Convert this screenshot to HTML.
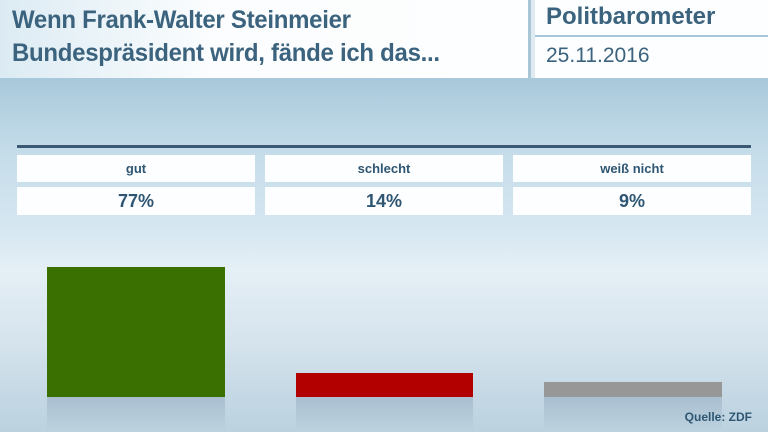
<!DOCTYPE html>
<html><head><meta charset="utf-8"><style>
body{margin:0;width:768px;height:432px;overflow:hidden;position:relative;font-family:"Liberation Sans",sans-serif;color:#2f5672;
background:linear-gradient(to bottom,#a6c7d9 0px,#a8c9db 80px,#c4dce9 150px,#d6e7f1 230px,#e5eff6 270px,#d6e4ed 340px,#c3d7e4 400px,#bcd2df 432px);}
.b{position:absolute;box-sizing:border-box}
.cell{position:absolute;background:#fcfeff;text-align:center;font-weight:bold}
</style></head><body>
<div class="b" style="left:0;top:0;width:528px;height:78px;background:linear-gradient(to right,#dcebf3,#fbfdfe 40%,#fcfeff)"></div>
<div class="b" style="left:528px;top:0;width:3px;height:78px;background:#a9c6d6"></div>
<div class="b" style="left:531px;top:0;width:4px;height:78px;background:#dfeaf1"></div>
<div class="b" style="left:535px;top:0;width:233px;height:35px;background:#fcfeff"></div>
<div class="b" style="left:535px;top:37px;width:233px;height:41px;background:#fcfeff"></div>
<div class="b" style="left:12px;top:4px;font-size:25px;font-weight:bold;line-height:33px;color:#3b637e;letter-spacing:-0.3px;transform:scaleX(0.96);transform-origin:0 0;white-space:nowrap">Wenn Frank-Walter Steinmeier<br>Bundespräsident wird, fände ich das...</div>
<div class="b" style="left:546px;top:3px;font-size:24px;font-weight:bold;color:#3b637e">Politbarometer</div>
<div class="b" style="left:546px;top:44px;font-size:21px;color:#3b637e">25.11.2016</div>
<div class="b" style="left:17px;top:145px;width:734px;height:3px;background:#3a5a74"></div>
<div class="cell" style="left:17px;top:155px;width:238px;height:27px;line-height:27px;font-size:13px">gut</div>
<div class="cell" style="left:265px;top:155px;width:238px;height:27px;line-height:27px;font-size:13px">schlecht</div>
<div class="cell" style="left:513px;top:155px;width:238px;height:27px;line-height:27px;font-size:13px">weiß nicht</div>
<div class="cell" style="left:17px;top:187px;width:238px;height:28px;line-height:28px;font-size:18px">77%</div>
<div class="cell" style="left:265px;top:187px;width:238px;height:28px;line-height:28px;font-size:18px">14%</div>
<div class="cell" style="left:513px;top:187px;width:238px;height:28px;line-height:28px;font-size:18px">9%</div>
<div class="b" style="left:47px;top:267px;width:178px;height:130px;background:#3a7002"></div>
<div class="b" style="left:296px;top:373px;width:177px;height:24px;background:#b20000"></div>
<div class="b" style="left:544px;top:382px;width:178px;height:15px;background:#979797"></div>
<div class="b" style="left:47px;top:397px;width:178px;height:35px;background:linear-gradient(#a9bfd0,#bdd2df)"></div>
<div class="b" style="left:296px;top:397px;width:177px;height:35px;background:linear-gradient(#a9bfd0,#bdd2df)"></div>
<div class="b" style="left:544px;top:397px;width:178px;height:35px;background:linear-gradient(#a9bfd0,#bdd2df)"></div>
<div class="b" style="right:16px;top:410px;font-size:12px;font-weight:bold;color:#2f5672">Quelle: ZDF</div>
</body></html>
